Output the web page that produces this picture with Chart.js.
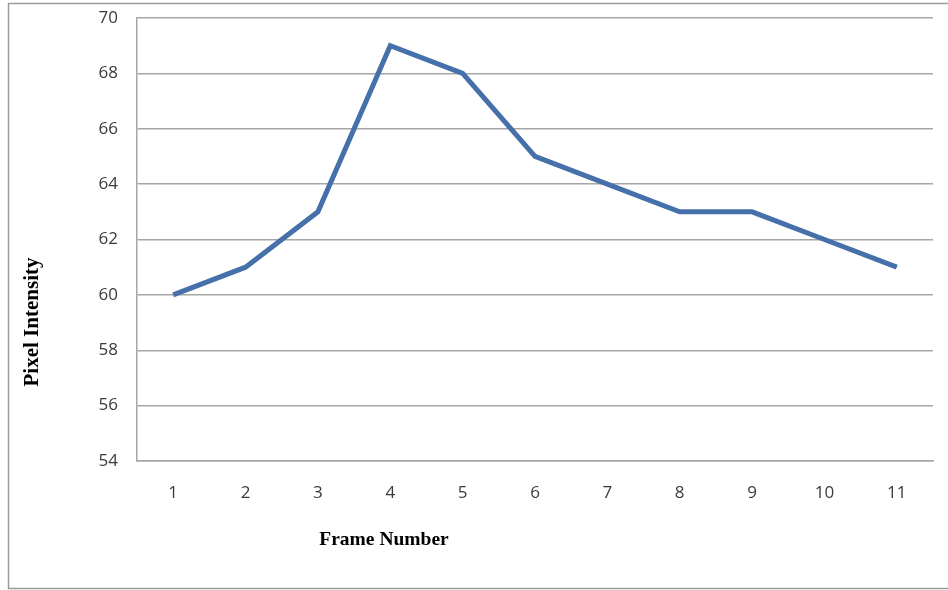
<!DOCTYPE html>
<html>
<head>
<meta charset="utf-8">
<script src="https://cdn.jsdelivr.net/npm/chart.js@4"></script>
<style>
  html, body { margin: 0; padding: 0; background: #fff; }
  #wrap { position: relative; width: 948px; height: 590px; }
</style>
</head>
<body>
<div id="wrap"><canvas id="chart" width="948" height="590"></canvas></div>
<script>
const frameNumbers = ['1', '2', '3', '4', '5', '6', '7', '8', '9', '10', '11'];
const pixelIntensity = [60, 61, 63, 69, 68, 65, 64, 63, 63, 62, 61];
const yMin = 54;
const yMax = 70;
const yStep = 2;

const gridColor = '#a6a6a6';
const tickFont = { family: '"Open Sans", sans-serif', size: 17 };

// outer frame + axis titles placed like the original spreadsheet chart
const framePlugin = {
    id: 'frame',
    beforeDraw(chart) {
        const ctx = chart.ctx;
        ctx.save();
        ctx.fillStyle = '#fff';
        ctx.fillRect(0, 0, chart.width, chart.height);
        ctx.strokeStyle = '#9a9a9a';
        ctx.lineWidth = 1.5;
        ctx.strokeRect(8.5, 3.5, 960, 585);
        ctx.restore();
    },
    afterDraw(chart) {
        const ctx = chart.ctx;
        ctx.save();
        ctx.fillStyle = '#000';
        ctx.textAlign = 'center';
        ctx.textBaseline = 'middle';
        ctx.font = 'bold 19.5px "Liberation Serif", "Times New Roman", serif';
        ctx.fillText('Frame Number', 384, 540);
        ctx.font = 'bold 21px "Liberation Serif", "Times New Roman", serif';
        ctx.translate(33, 322);
        ctx.rotate(-Math.PI / 2);
        ctx.fillText('Pixel Intensity', 0, 0);
        ctx.restore();
    }
};

new Chart(document.getElementById('chart'), {
    type: 'line',
    data: {
        labels: frameNumbers,
        datasets: [{
            label: 'Pixel Intensity',
            data: pixelIntensity,
            borderColor: '#4670aa',
            borderWidth: 5,
            pointRadius: 0,
            tension: 0,
            fill: false
        }]
    },
    options: {
        responsive: false,
        animation: false,
        layout: { padding: { top: 18, right: 15, left: 0, bottom: 0 } },
        plugins: {
            legend: { display: false },
            tooltip: { enabled: false }
        },
        scales: {
            x: {
                offset: true,
                grid: { display: false, drawTicks: false },
                border: { display: true, color: gridColor, width: 1.5 },
                ticks: { color: '#3a3a3a', font: tickFont, padding: 22, maxRotation: 0 },
                afterFit(scale) {
                    scale.height = 129;
                    scale.paddingLeft = 0;
                    scale.paddingRight = 0;
                }
            },
            y: {
                min: yMin,
                max: yMax,
                grid: { color: gridColor, lineWidth: 1.5, drawTicks: false },
                border: { display: true, color: gridColor, width: 1.5 },
                ticks: { stepSize: yStep, color: '#3a3a3a', font: tickFont, padding: 19 },
                afterFit(scale) {
                    scale.width = 137;
                    scale.paddingTop = 0;
                    scale.paddingBottom = 0;
                }
            }
        }
    },
    plugins: [framePlugin]
});
</script>
</body>
</html>
